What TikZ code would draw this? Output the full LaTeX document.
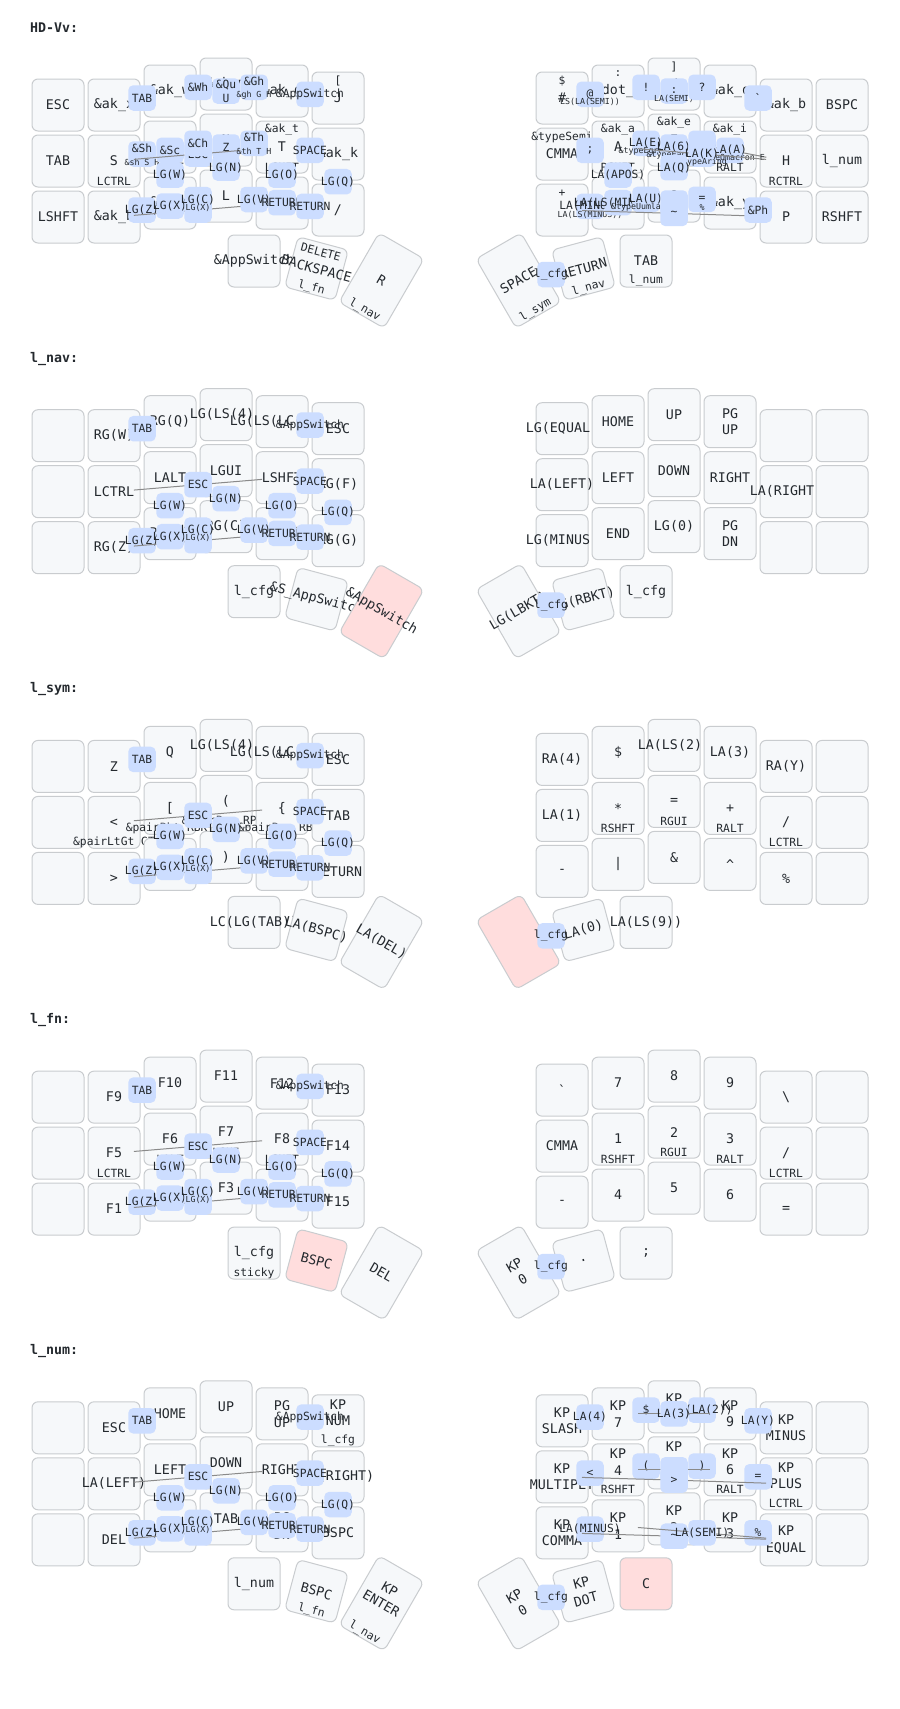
\documentclass[tikz,border=0pt]{standalone}
\usepackage{fontspec}
\setmonofont{DejaVu Sans Mono}

\definecolor{keyfill}{HTML}{F6F8FA}
\definecolor{keyline}{HTML}{C9CCCF}
\definecolor{combofill}{HTML}{CCDDFF}
\definecolor{heldfill}{HTML}{FFDDDD}
\definecolor{kmtext}{HTML}{24292E}
\definecolor{dendgray}{HTML}{8A8A8A}

\tikzset{
  keybox/.style={draw=keyline, fill=keyfill, line width=1pt, rounded corners=6pt,
    minimum width=52pt, minimum height=52pt, inner sep=0pt},
  tallbox/.style={minimum height=80pt},
  heldkey/.style={fill=heldfill},
  taplbl/.style={font=\ttfamily\fontsize{13.3}{16.7}\selectfont, text=kmtext,
    align=center, inner sep=0pt},
  tapup/.style={yshift=8pt},
  smllbl/.style={font=\ttfamily\fontsize{11.3}{13}\selectfont, text=kmtext, inner sep=0pt},
  tinylbl/.style={font=\ttfamily\fontsize{8.3}{9}\selectfont, text=kmtext, inner sep=0pt},
  combobox/.style={fill=combofill, rounded corners=5pt, minimum width=27.5pt,
    minimum height=25.5pt, inner sep=0pt},
  combolbl/.style={smllbl},
  dendron/.style={draw=dendgray, line width=1pt, shorten >=20pt},
  layertitle/.style={font=\ttfamily\bfseries\fontsize{13.3}{16}\selectfont, text=kmtext,
    anchor=west, inner sep=0pt}
}

% touche : nom, x, y, angle, style boite, style texte, haut, centre, bas
\newcommand{\kbhalf}{26}
\newcommand{\kbkey}[9]{%
  \begin{scope}[shift={(#2,#3)},rotate=#4]
    \node[keybox,#5,transform shape] (#1) at (0,0) {};
    \node[taplbl,#6,transform shape] (#1-t) at (0,0) {#8};
    \node[smllbl,transform shape] (#1-s) at (0,-\kbhalf+9) {#7};
    \node[smllbl,transform shape] (#1-h) at (0,\kbhalf-6) {#9};
  \end{scope}}
\newcommand{\kbtall}[9]{{\renewcommand{\kbhalf}{40}\kbkey{#1}{#2}{#3}{#4}{tallbox,#5}{#6}{#7}{#8}{#9}}}
% une rangee de six touches
\newcommand{\kbrow}[5]{%
  \foreach \kc/\ksh/\ktp/\khd in {#5}{%
    \pgfmathsetmacro\kx{#2+56*\kc}%
    \pgfmathsetmacro\ky{{#3}[\kc]+56*#4}%
    \kbkey{#1#4\kc}{\kx}{\ky}{0}{}{}{\ksh}{\ktp}{\khd}}}
\newcommand{\lrow}[3]{\kbrow{#1}{58}{105,105,91,84,91,98}{#2}{#3}}
\newcommand{\rrow}[3]{\kbrow{#1}{562}{98,91,84,91,105,105}{#2}{#3}}
% combos
\newcommand{\combo}[4]{%
  \node[combobox] (#1) at (#2,#3) {};
  \node[combolbl] (#1-t) at (#1) {#4};}
\newcommand{\combolink}[6]{%
  \coordinate (#1-c) at (#2,#3);
  \draw[dendron] (#1-c) -- (#5.center);
  \draw[dendron] (#1-c) -- (#6.center);
  \combo{#1}{#2}{#3}{#4}}
\newcommand{\combosub}[2]{\node[tinylbl] (#1-h) at ([yshift=-8pt]#1.center) {#2};}
\newcommand{\combosup}[2]{\node[combolbl] (#1-s) at ([yshift=6pt]#1.center) {#2};}
\newcommand{\leftcombos}[1]{%
  \combo{#1tab}{142}{98}{TAB}%
  \combo{#1app}{310}{94.3}{\&AppSwitch}%
  \combolink{#1esc}{198}{154}{ESC}{#1l11}{#1l14}%
  \combo{#1spc}{310}{150.3}{SPACE}%
  \combo{#1lgw}{170}{175}{LG(W)}%
  \combo{#1lgn}{226}{168}{LG(N)}%
  \combo{#1lgo}{282}{175}{LG(O)}%
  \combo{#1lgq}{338}{181.7}{LG(Q)}%
  \combo{#1lgz}{142}{210}{LG(Z)}%
  \combolink{#1lgs}{198}{210}{}{#1l21}{#1l24}%
  \combo{#1lgx}{170}{206}{LG(X)}%
  \combo{#1lgc}{198}{199.5}{LG(C)}\combosub{#1lgc}{LG(X)}%
  \combo{#1lgv}{254}{199.5}{LG(V)}%
  \combo{#1ret}{282}{202.7}{RETURN}%
  \combo{#1rtn}{310}{206.4}{RETURN}}

\begin{document}
\begin{tikzpicture}[x=1pt,y=-1pt]
\useasboundingbox (0,0) rectangle (900,1709);
\fill[white] (0,0) rectangle (900,1709);

% Couche HD-Vv
\begin{scope}
\node[layertitle] (t-base) at (30,28) {HD-Vv:};
\lrow{basel}{0}{0/{}/ESC/{}, 1/{}/{\&ak\_x}/{}, 2/{}/{\&ak\_w}/{}, 3/{}/{\&ak\_m}/{}, 4/{}/{\&ak\_g}/{}, 5/{[}/J/{}}
\rrow{baser}{0}{0/{\$}/{\#}/{}, 1/{:}/{\&dot\_a}/{}, 2/{]}/{/}/{}, 3/{}/{\&ak\_q}/{}, 4/{}/{\&ak\_b}/{}, 5/{}/BSPC/{}}
\lrow{basel}{1}{0/{}/TAB/{}, 1/{}/S/LCTRL, 2/{}/C/LALT, 3/{}/N/LGUI, 4/{\&ak\_t}/T/LSHFT, 5/{}/{\&ak\_k}/{}}
\rrow{baser}{1}{0/{\&typeSemi}/CMMA/{}, 1/{\&ak\_a}/A/RSHFT, 2/{\&ak\_e}/E/RGUI, 3/{\&ak\_i}/I/RALT, 4/{}/H/RCTRL, 5/{}/{l\_num}/{}}
\lrow{basel}{2}{0/{}/LSHFT/{}, 1/{}/{\&ak\_b}/{}, 2/{}/{\&ak\_p}/{}, 3/{}/L/{}, 4/{}/{\&ak\_d}/{}, 5/{}/{/}/{}}
\rrow{baser}{2}{0/{+}/{}/{}, 1/{}/U/{}, 2/{}/O/{}, 3/{}/{\&ak\_y}/{}, 4/{}/P/{}, 5/{}/RSHFT/{}}
\kbkey{baselt0}{254}{261}{0}{}{}{}{\&AppSwitch}{}
\kbkey{baselt1}{316.5}{268.5}{-15}{}{}{DELETE}{BACKSPACE}{l\_fn}
\kbtall{baselt2}{381.5}{280.5}{-30}{}{}{}{R}{l\_nav}
\kbtall{basert2}{518.5}{280.5}{30}{}{}{}{SPACE}{l\_sym}
\kbkey{basert1}{583.5}{268.5}{15}{}{}{}{RETURN}{l\_nav}
\kbkey{basert0}{646}{261}{0}{}{}{}{TAB}{l\_num}
% combos gauche
\combo{basewh}{198}{87.3}{\&Wh}
\combo{basequ}{226}{91}{}\combosup{basequ}{\&Qu}
\node[combolbl] (basequ-h) at ([yshift=-7pt]basequ.center) {U};
\combo{basegh}{254}{87.3}{}\combosup{basegh}{\&Gh}\combosub{basegh}{\&gh G H}
\combo{basesh}{142}{154}{}\combosup{basesh}{\&Sh}\combosub{basesh}{\&sh S H}
\combo{basesc}{170}{150.3}{\&Sc}
\combo{basez}{226}{147}{Z}
\leftcombos{base}
\combo{basech}{198}{143.3}{\&Ch}
\combo{baseth}{254}{143.3}{}\combosup{baseth}{\&Th}\combosub{baseth}{\&th T H}
% combos droite
\combo{baseat}{590}{94.3}{@}\combosub{baseat}{LS(LA(SEMI))}
\combo{baseex}{646}{87.3}{!}
\combo{basecol}{674}{91}{:}\combosub{basecol}{LA(SEMI)}
\combo{baseqm}{702}{87.3}{?}
\combo{basegr}{758}{98}{\textasciigrave}
\combo{basesem}{590}{150.3}{;}
\combo{basela}{646}{143.3}{LA(E)}\combosub{basela}{\&typeEgrave}
\combo{basesix}{674}{147}{LA(6)}\combosub{basesix}{\&typeEacute}
\combo{baseek}{702}{143.3}{}
\combolink{baselaa}{730}{150.3}{LA(A)}{baser12}{baser14}\combosub{baselaa}{\&typeOmacron E}
\combolink{baselak}{702}{154}{LA(K)}{baser11}{baser14}\combosub{baselak}{\&typeAring}
\combo{baselaq}{674}{167.7}{LA(Q)}
\combo{baseapos}{618}{175}{LA(APOS)}
\combo{basemin}{590}{206.4}{LA(MINUS)}\combosub{basemin}{LA(LS(MINUS))}
\combo{baselsm}{618}{202.7}{LA(LS(MINUS))}
\combo{baselau}{646}{199.4}{LA(U)}\combosub{baselau}{\&typeUumlaut U}
\combo{baseoo}{674}{203}{}
\combolink{basetl}{674}{213.4}{\textasciitilde}{baser20}{baser24}
\combo{baseeq}{702}{199.4}{=}\combosub{baseeq}{\%}
\combo{baseph}{758}{210}{\&Ph}
\combo{basecfg}{551}{274.5}{l\_cfg}
\end{scope}

% Couche l_nav
\begin{scope}[shift={(0,330.7)}]
\node[layertitle] (t-nav) at (30,28) {l\_nav:};
\lrow{navl}{0}{0/{}/{}/{}, 1/{}/RG(W)/{}, 2/{}/RG(Q)/{}, 3/{}/LG(LS(4))/{}, 4/{}/LG(LS(LC(4)))/{}, 5/{}/ESC/{}}
\rrow{navr}{0}{0/{}/LG(EQUAL)/{}, 1/{}/HOME/{}, 2/{}/UP/{}, 3/{}/{PG\\UP}/{}, 4/{}/{}/{}, 5/{}/{}/{}}
\lrow{navl}{1}{0/{}/{}/{}, 1/{}/LCTRL/{}, 2/{}/LALT/{}, 3/{}/LGUI/{}, 4/{}/LSHFT/{}, 5/{}/RG(F)/{}}
\rrow{navr}{1}{0/{}/LA(LEFT)/{}, 1/{}/LEFT/{}, 2/{}/DOWN/{}, 3/{}/RIGHT/{}, 4/{}/LA(RIGHT)/{}, 5/{}/{}/{}}
\lrow{navl}{2}{0/{}/{}/{}, 1/{}/RG(Z)/{}, 2/{}/RG(X)/{}, 3/{}/RG(C)/{}, 4/{}/RG(V)/{}, 5/{}/RG(G)/{}}
\rrow{navr}{2}{0/{}/LG(MINUS)/{}, 1/{}/END/{}, 2/{}/LG(0)/{}, 3/{}/{PG\\DN}/{}, 4/{}/{}/{}, 5/{}/{}/{}}
\kbkey{navlt0}{254}{261}{0}{}{}{}{l\_cfg}{}
\kbkey{navlt1}{316.5}{268.5}{-15}{}{}{}{\&S\_AppSwitch}{}
\kbtall{navlt2}{381.5}{280.5}{-30}{heldkey}{}{}{\&AppSwitch}{}
\kbtall{navrt2}{518.5}{280.5}{30}{}{}{}{LG(LBKT)}{}
\kbkey{navrt1}{583.5}{268.5}{15}{}{}{}{LG(RBKT)}{}
\kbkey{navrt0}{646}{261}{0}{}{}{}{l\_cfg}{}
\leftcombos{nav}
\combo{navcfg}{551}{274.5}{l\_cfg}
\end{scope}

% Couche l_sym
\begin{scope}[shift={(0,661.4)}]
\node[layertitle] (t-sym) at (30,28) {l\_sym:};
\lrow{syml}{0}{0/{}/{}/{}, 1/{}/Z/{}, 2/{}/Q/{}, 3/{}/LG(LS(4))/{}, 4/{}/LG(LS(LC(4)))/{}, 5/{}/ESC/{}}
\rrow{symr}{0}{0/{}/RA(4)/{}, 1/{}/{\$}/{}, 2/{}/LA(LS(2))/{}, 3/{}/LA(3)/{}, 4/{}/RA(Y)/{}, 5/{}/{}/{}}
\lrow{syml}{1}{0/{}/{}/{}, 1/{}/{<}/{\&pairLtGt GT}, 2/{}/{[}/{\&pairBkt RBKT}, 3/{}/{(}/{\&pairPrn RPAR}, 4/{}/{\{}/{\&pairBrc RBRC}, 5/{}/TAB/{}}
\rrow{symr}{1}{0/{}/LA(1)/{}, 1/{}/{*}/RSHFT, 2/{}/{=}/RGUI, 3/{}/{+}/RALT, 4/{}/{/}/LCTRL, 5/{}/{}/{}}
\lrow{syml}{2}{0/{}/{}/{}, 1/{}/{>}/{}, 2/{}/{]}/{}, 3/{}/{)}/{}, 4/{}/{\}}/{}, 5/{}/RETURN/{}}
\rrow{symr}{2}{0/{}/{-}/{}, 1/{}/{|}/{}, 2/{}/{\&}/{}, 3/{}/{\textasciicircum}/{}, 4/{}/{\%}/{}, 5/{}/{}/{}}
\kbkey{symlt0}{254}{261}{0}{}{}{}{LC(LG(TAB))}{}
\kbkey{symlt1}{316.5}{268.5}{-15}{}{}{}{LA(BSPC)}{}
\kbtall{symlt2}{381.5}{280.5}{-30}{}{}{}{LA(DEL)}{}
\kbtall{symrt2}{518.5}{280.5}{30}{heldkey}{}{}{}{}
\kbkey{symrt1}{583.5}{268.5}{15}{}{}{}{LA(0)}{}
\kbkey{symrt0}{646}{261}{0}{}{}{}{LA(LS(9))}{}
\leftcombos{sym}
\combo{symcfg}{551}{274.5}{l\_cfg}
\end{scope}

% Couche l_fn
\begin{scope}[shift={(0,992.1)}]
\node[layertitle] (t-fn) at (30,28) {l\_fn:};
\lrow{fnl}{0}{0/{}/{}/{}, 1/{}/F9/{}, 2/{}/F10/{}, 3/{}/F11/{}, 4/{}/F12/{}, 5/{}/F13/{}}
\rrow{fnr}{0}{0/{}/{\textasciigrave}/{}, 1/{}/7/{}, 2/{}/8/{}, 3/{}/9/{}, 4/{}/{\textbackslash}/{}, 5/{}/{}/{}}
\lrow{fnl}{1}{0/{}/{}/{}, 1/{}/F5/LCTRL, 2/{}/F6/LALT, 3/{}/F7/LGUI, 4/{}/F8/LSHFT, 5/{}/F14/{}}
\rrow{fnr}{1}{0/{}/CMMA/{}, 1/{}/1/RSHFT, 2/{}/2/RGUI, 3/{}/3/RALT, 4/{}/{/}/LCTRL, 5/{}/{}/{}}
\lrow{fnl}{2}{0/{}/{}/{}, 1/{}/F1/{}, 2/{}/F2/{}, 3/{}/F3/{}, 4/{}/F4/{}, 5/{}/F15/{}}
\rrow{fnr}{2}{0/{}/{-}/{}, 1/{}/4/{}, 2/{}/5/{}, 3/{}/6/{}, 4/{}/{=}/{}, 5/{}/{}/{}}
\kbkey{fnlt0}{254}{261}{0}{}{}{}{l\_cfg}{sticky}
\kbkey{fnlt1}{316.5}{268.5}{-15}{heldkey}{}{}{BSPC}{}
\kbtall{fnlt2}{381.5}{280.5}{-30}{}{}{}{DEL}{}
\kbtall{fnrt2}{518.5}{280.5}{30}{}{}{}{KP\\0}{}
\kbkey{fnrt1}{583.5}{268.5}{15}{}{}{}{.}{}
\kbkey{fnrt0}{646}{261}{0}{}{}{}{;}{}
\leftcombos{fn}
\combo{fncfg}{551}{274.5}{l\_cfg}
\end{scope}

% Couche l_num
\begin{scope}[shift={(0,1322.8)}]
\node[layertitle] (t-num) at (30,28) {l\_num:};
\lrow{numl}{0}{0/{}/{}/{}, 1/{}/ESC/{}, 2/{}/HOME/{}, 3/{}/UP/{}, 4/{}/{PG\\UP}/{}}
\kbkey{numl05}{338}{98}{0}{}{tapup}{}{KP\\NUM}{l\_cfg}
\rrow{numr}{0}{0/{}/{KP\\SLASH}/{}, 1/{}/{KP\\7}/{}, 2/{}/{KP\\8}/{}, 3/{}/{KP\\9}/{}, 4/{}/{KP\\MINUS}/{}, 5/{}/{}/{}}
\lrow{numl}{1}{0/{}/{}/{}, 1/{}/LA(LEFT)/{}, 2/{}/LEFT/{}, 3/{}/DOWN/{}, 4/{}/RIGHT/{}, 5/{}/LA(RIGHT)/{}}
\rrow{numr}{1}{0/{}/{KP\\MULTIPLY}/{}}
\kbkey{numr11}{618}{147}{0}{}{tapup}{}{KP\\4}{RSHFT}
\kbkey{numr12}{674}{140}{0}{}{tapup}{}{KP\\5}{RGUI}
\kbkey{numr13}{730}{147}{0}{}{tapup}{}{KP\\6}{RALT}
\kbkey{numr14}{786}{161}{0}{}{tapup}{}{KP\\PLUS}{LCTRL}
\rrow{numr}{1}{5/{}/{}/{}}
\lrow{numl}{2}{0/{}/{}/{}, 1/{}/DEL/{}, 2/{}/END/{}, 3/{}/TAB/{}, 4/{}/{PG\\DN}/{}, 5/{}/BSPC/{}}
\rrow{numr}{2}{0/{}/{KP\\COMMA}/{}, 1/{}/{KP\\1}/{}, 2/{}/{KP\\2}/{}, 3/{}/{KP\\3}/{}, 4/{}/{KP\\EQUAL}/{}, 5/{}/{}/{}}
\kbkey{numlt0}{254}{261}{0}{}{}{}{l\_num}{}
\kbkey{numlt1}{316.5}{268.5}{-15}{}{}{}{BSPC}{l\_fn}
\kbtall{numlt2}{381.5}{280.5}{-30}{}{tapup}{}{KP\\ENTER}{l\_nav}
\kbtall{numrt2}{518.5}{280.5}{30}{}{}{}{KP\\0}{}
\kbkey{numrt1}{583.5}{268.5}{15}{}{}{}{KP\\DOT}{}
\kbkey{numrt0}{646}{261}{0}{heldkey}{}{}{C}{}
\leftcombos{num}
% combos droite
\combo{numla4}{590}{94.3}{LA(4)}
\combo{numdol}{646}{87.3}{\$}
\combo{numla2}{702}{87.3}{LS(LA(2))}
\combolink{numla3}{674}{91}{LA(3)}{numr01}{numr03}
\combo{numlay}{758}{98}{LA(Y)}
\combo{numlt}{590}{150.3}{<}
\combo{numlp}{646}{143.3}{(}
\combo{numrp}{702}{143.3}{)}
\combo{numeq}{758}{154}{=}
\combolink{nummid}{674}{147}{}{numr11}{numr13}
\combolink{numgt}{674}{157.3}{>}{numr10}{numr14}
\combo{nummin}{590}{206.4}{LA(MINUS)}
\combo{numpct}{758}{210}{\%}
\combolink{numtl}{674}{213.4}{\textasciitilde}{numr20}{numr24}
\combolink{numsemi}{702}{210}{LA(SEMI)}{numr21}{numr24}
\combo{numcfg}{551}{274.5}{l\_cfg}
\end{scope}
\end{tikzpicture}
\end{document}
